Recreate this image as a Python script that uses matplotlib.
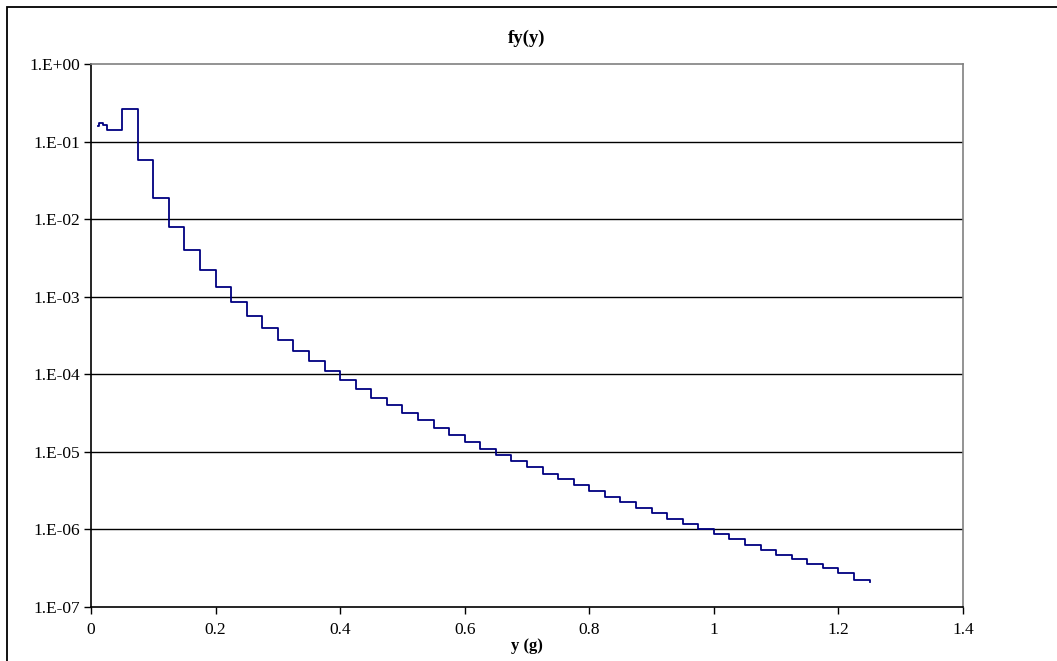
import matplotlib
matplotlib.use("Agg")
import matplotlib.pyplot as plt
from matplotlib.patches import Rectangle
from matplotlib.ticker import FixedLocator, FixedFormatter

# Step positions (left edge of each level) and level values
x_edges = [0.0115, 0.0125, 0.0185, 0.025, 0.05, 0.075, 0.1, 0.125, 0.15, 0.175,
           0.2, 0.225, 0.25, 0.275, 0.3, 0.325, 0.35, 0.375, 0.4, 0.425,
           0.45, 0.475, 0.5, 0.525, 0.55, 0.575, 0.6, 0.625, 0.65, 0.675,
           0.7, 0.725, 0.75, 0.775, 0.8, 0.825, 0.85, 0.875, 0.9, 0.925,
           0.95, 0.975, 1.0, 1.025, 1.05, 1.075, 1.1, 1.125, 1.15, 1.175,
           1.2, 1.225, 1.25]
fy_values = [0.160, 0.172, 0.164, 0.141, 0.2606, 0.0579, 0.0189, 0.00799, 0.003966, 0.00221,
             0.001334, 0.000855, 0.000569, 0.000399, 0.0002766, 0.0001995, 0.000147, 0.0001102, 8.44e-5, 6.46e-5,
             4.99e-5, 3.96e-5, 3.19e-5, 2.55e-5, 2.04e-5, 1.649e-5, 1.351e-5, 1.098e-5, 9.19e-6, 7.62e-6,
             6.32e-6, 5.23e-6, 4.43e-6, 3.71e-6, 3.10e-6, 2.64e-6, 2.24e-6, 1.873e-6, 1.614e-6, 1.374e-6,
             1.174e-6, 9.98e-7, 8.65e-7, 7.46e-7, 6.35e-7, 5.48e-7, 4.72e-7, 4.12e-7, 3.61e-7, 3.15e-7,
             2.72e-7, 2.25e-7, 2.10e-7]

x_ticks = [0, 0.2, 0.4, 0.6, 0.8, 1.0, 1.2, 1.4]
x_tick_labels = ["0", "0.2", "0.4", "0.6", "0.8", "1", "1.2", "1.4"]
y_ticks = [1e0, 1e-1, 1e-2, 1e-3, 1e-4, 1e-5, 1e-6, 1e-7]
y_tick_labels = ["1.E+00", "1.E-01", "1.E-02", "1.E-03", "1.E-04", "1.E-05", "1.E-06", "1.E-07"]

plt.rcParams['font.family'] = ['Liberation Serif', 'DejaVu Serif']

W, H = 1057, 661
fig = plt.figure(figsize=(W / 100, H / 100), dpi=100)
fig.patch.set_facecolor("white")

# outer chart frame
fig.patches.append(Rectangle((7 / W, -0.05), 1.2, 1 - 7 / H + 0.05, transform=fig.transFigure,
                             fill=False, edgecolor="black", linewidth=1.3))

left, right, top, bottom = 91, 963, 64, 607
ax = fig.add_axes([left / W, 1 - bottom / H, (right - left) / W, (bottom - top) / H])

ax.step(x_edges, fy_values, where="post", color="#000080", linewidth=1.3, zorder=3)

ax.set_yscale("log")
ax.set_xlim(0, 1.4)
ax.set_ylim(1e-7, 1e0)
ax.xaxis.set_major_locator(FixedLocator(x_ticks))
ax.xaxis.set_major_formatter(FixedFormatter(x_tick_labels))
ax.yaxis.set_major_locator(FixedLocator(y_ticks))
ax.yaxis.set_major_formatter(FixedFormatter(y_tick_labels))
ax.yaxis.set_minor_locator(FixedLocator([]))

for yt in y_ticks[1:-1]:
    ax.axhline(yt, color="black", linewidth=1.0, zorder=1)

ax.spines["top"].set_color("#808080")
ax.spines["right"].set_color("#808080")
ax.spines["left"].set_color("black")
ax.spines["bottom"].set_color("black")
for s in ax.spines.values():
    s.set_linewidth(1.2)

ax.tick_params(axis="both", which="major", direction="out", length=5, width=1,
               labelsize=12.5, colors="black")
ax.tick_params(axis="x", pad=6)
ax.tick_params(axis="y", pad=3)

fig.text((left + right) / 2 / W, 1 - 38 / H, "fy(y)", ha="center", va="center",
         fontsize=13.5, fontweight="bold")
fig.text((left + right) / 2 / W, 1 - 646 / H, "y (g)", ha="center", va="center",
         fontsize=12, fontweight="bold")

fig.savefig("out.png", dpi=100, facecolor="white")
